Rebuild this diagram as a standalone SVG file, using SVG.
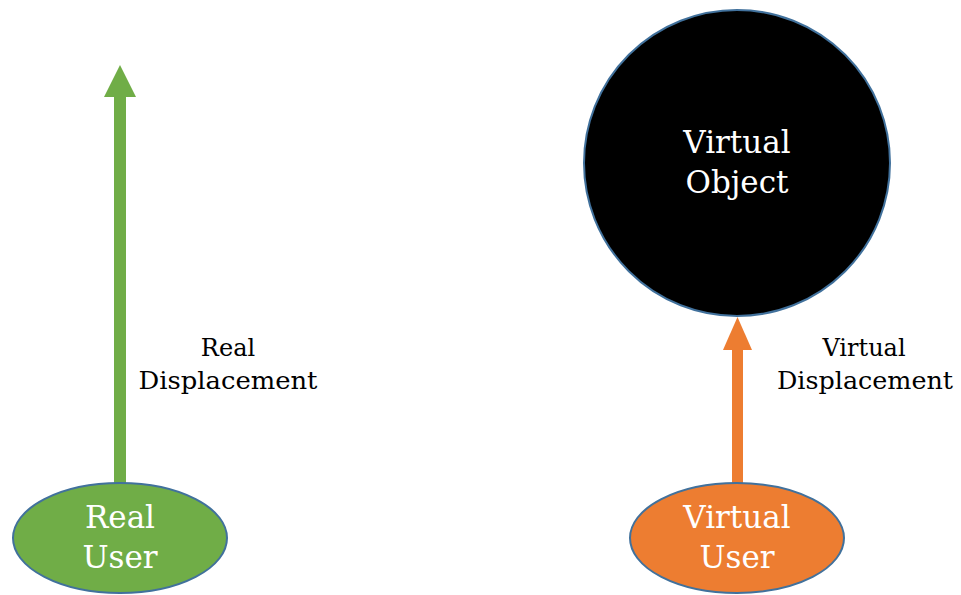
<svg xmlns="http://www.w3.org/2000/svg" width="961" height="595" viewBox="0 0 961 595">
<style>
.node{stroke:#41719c;stroke-width:2}
.in{font-family:"DejaVu Serif","Liberation Serif",serif;font-size:31px;fill:#fff;text-anchor:middle}
.lbl{font-family:"DejaVu Serif","Liberation Serif",serif;font-size:24px;fill:#000;text-anchor:middle}
</style>
<rect width="961" height="595" fill="#fff"/>
<g id="connectors">
  <g id="real-displacement">
    <rect x="114" y="95" width="12" height="388" fill="#70ad47"/>
    <polygon points="120,65 136,97 104,97" fill="#70ad47"/>
  </g>
  <g id="virtual-displacement">
    <rect x="732" y="348" width="11" height="135" fill="#ed7d31"/>
    <polygon points="737.5,317 752,350 723,350" fill="#ed7d31"/>
  </g>
</g>
<g id="real-user">
  <ellipse class="node" cx="120" cy="538" rx="107" ry="55" fill="#70ad47"/>
  <text class="in" x="120" y="528">Real</text>
  <text class="in" x="120" y="568">User</text>
</g>
<g id="virtual-user">
  <ellipse class="node" cx="737" cy="538" rx="107" ry="55" fill="#ed7d31"/>
  <text class="in" x="737" y="528">Virtual</text>
  <text class="in" x="737" y="568">User</text>
</g>
<g id="virtual-object">
  <circle class="node" cx="737" cy="163" r="153" fill="#000"/>
  <text class="in" x="737" y="153">Virtual</text>
  <text class="in" x="737" y="193">Object</text>
</g>
<g id="labels">
  <text class="lbl" x="228" y="356">Real</text>
  <text class="lbl" x="228" y="389" textLength="179" lengthAdjust="spacingAndGlyphs">Displacement</text>
  <text class="lbl" x="864" y="356">Virtual</text>
  <text class="lbl" x="865" y="389" textLength="176" lengthAdjust="spacingAndGlyphs">Displacement</text>
</g>
</svg>
